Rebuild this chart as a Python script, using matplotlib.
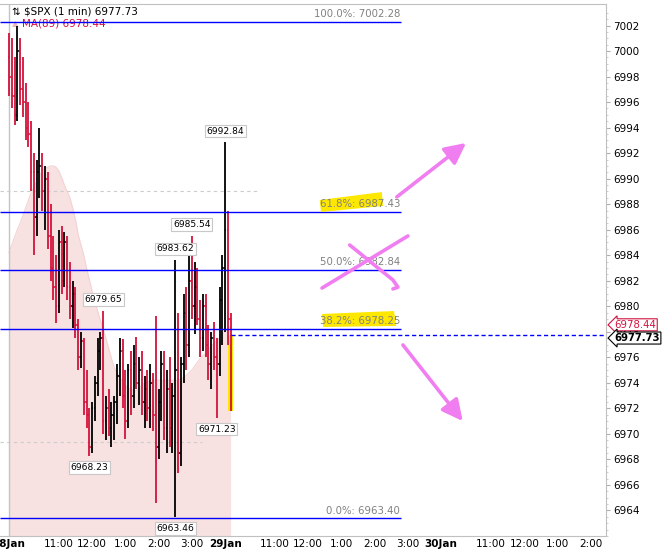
import numpy as np
import matplotlib
matplotlib.use('Agg')
import matplotlib.pyplot as plt
from matplotlib.patches import Polygon, Rectangle
import matplotlib.transforms as mtransforms

# 5-minute steps of trading minutes, 0 = 28 Jan 9:30
bar_minutes = np.arange(0, 405, 5)

opens = [6999.5, 6998.0, 6996.5, 6995.0, 7000.0, 6997.0, 6996.0, 6994.0, 6993.5, 6990.5,
         6987.0, 6990.5, 6991.0, 6989.0, 6990.0, 6985.5, 6983.0, 6981.5, 6980.0, 6985.0,
         6982.0, 6985.0, 6981.5, 6980.0, 6981.0, 6978.5, 6976.0, 6977.3, 6972.5, 6971.5,
         6969.0, 6972.0, 6974.0, 6976.5, 6977.5, 6971.0, 6972.0, 6970.5, 6971.5, 6972.5,
         6974.5, 6976.5, 6973.0, 6971.0, 6975.0, 6973.0, 6975.5, 6974.0, 6975.0, 6972.5,
         6973.5, 6972.0, 6974.0, 6971.5, 6969.0, 6972.5, 6975.5, 6970.5, 6973.5, 6970.5,
         6973.0, 6975.0, 6968.5, 6975.5, 6979.5, 6977.0, 6982.0, 6980.0, 6981.5, 6979.0,
         6977.5, 6980.0, 6977.0, 6975.5, 6977.5, 6976.0, 6975.5, 6980.5, 6983.0, 6986.0,
         6979.0]
highs = [7001.4, 7001.0, 6999.5, 7002.0, 7001.0, 6999.5, 6997.5, 6996.0, 6994.5, 6992.0,
         6991.5, 6994.0, 6992.0, 6991.0, 6990.5, 6988.0, 6985.5, 6984.0, 6986.0, 6986.3,
         6985.8, 6985.5, 6983.5, 6982.0, 6981.5, 6979.0, 6978.0, 6977.5, 6975.0, 6972.0,
         6972.5, 6974.5, 6977.5, 6978.0, 6979.65, 6973.0, 6973.5, 6972.5, 6973.0, 6975.5,
         6977.5, 6977.4, 6975.0, 6975.5, 6976.5, 6977.0, 6977.6, 6976.0, 6976.5, 6974.5,
         6975.0, 6975.5, 6974.8, 6979.2, 6973.5, 6976.5, 6976.5, 6975.0, 6976.0, 6974.0,
         6983.62, 6979.5, 6976.0, 6981.0, 6981.5, 6984.5, 6985.54, 6983.5, 6983.0, 6980.5,
         6981.0, 6981.0, 6978.5, 6978.0, 6978.8, 6977.5, 6981.5, 6984.0, 6992.84, 6987.5,
         6979.5]
lows = [6996.5, 6995.5, 6994.2, 6994.5, 6995.8, 6994.8, 6993.0, 6992.5, 6989.0, 6984.0,
        6985.5, 6988.5, 6987.5, 6986.0, 6984.5, 6982.0, 6980.5, 6978.7, 6979.5, 6981.0,
        6981.5, 6980.5, 6979.0, 6978.3, 6977.5, 6975.0, 6975.2, 6971.5, 6970.5, 6968.23,
        6968.5, 6971.0, 6973.0, 6975.0, 6970.0, 6969.5, 6969.8, 6969.0, 6969.5, 6970.8,
        6973.0, 6972.0, 6969.6, 6970.5, 6971.5, 6972.0, 6973.5, 6972.3, 6971.5, 6970.5,
        6971.0, 6970.5, 6970.2, 6964.6, 6968.0, 6971.0, 6969.5, 6968.5, 6969.0, 6968.5,
        6963.46, 6966.9, 6967.5, 6974.0, 6975.0, 6976.0, 6979.0, 6977.8, 6978.5, 6976.0,
        6976.5, 6976.0, 6974.2, 6973.5, 6975.0, 6971.23, 6974.5, 6977.0, 6978.0, 6977.0,
        6971.8]
closes = [6998.0, 6996.5, 6995.0, 7000.0, 6997.0, 6996.0, 6994.0, 6993.5, 6990.5, 6987.0,
          6990.5, 6991.0, 6989.0, 6990.0, 6985.5, 6983.0, 6981.5, 6980.0, 6985.0, 6982.0,
          6985.0, 6981.5, 6980.0, 6981.0, 6978.5, 6976.0, 6977.3, 6972.5, 6971.5, 6969.0,
          6972.0, 6974.0, 6976.5, 6977.5, 6971.0, 6972.0, 6970.5, 6971.5, 6972.5, 6974.5,
          6976.5, 6973.0, 6971.0, 6975.0, 6973.0, 6975.5, 6974.0, 6975.0, 6972.5, 6973.5,
          6972.0, 6974.0, 6971.5, 6969.0, 6972.5, 6975.5, 6970.5, 6973.5, 6970.5, 6973.0,
          6975.0, 6968.5, 6975.5, 6979.5, 6977.0, 6982.0, 6980.0, 6981.5, 6979.0, 6977.5,
          6980.0, 6977.0, 6975.5, 6977.5, 6976.0, 6975.5, 6980.5, 6983.0, 6986.0, 6979.0,
          6977.73]
ma89 = [6984.2, 6984.8, 6985.4, 6986.0, 6986.5, 6987.1, 6987.7, 6988.3, 6988.9, 6989.3,
        6989.8, 6990.2, 6990.6, 6990.8, 6990.9, 6991.0, 6991.0, 6990.9, 6990.6, 6990.1,
        6989.5, 6989.0, 6988.5, 6987.7, 6986.8, 6985.6, 6984.8, 6984.0, 6983.0, 6982.1,
        6981.2, 6980.4, 6979.6, 6978.9, 6978.2, 6977.5, 6976.7, 6975.9, 6975.2, 6974.8,
        6974.4, 6974.1, 6973.8, 6973.6, 6973.5, 6973.4, 6973.4, 6973.6, 6973.8, 6974.0,
        6974.1, 6974.1, 6974.2, 6974.2, 6974.2, 6974.2, 6974.2, 6974.2, 6974.2, 6974.2,
        6974.2, 6974.2, 6974.3, 6974.4, 6974.6, 6974.8, 6975.0, 6975.3, 6975.6, 6975.9,
        6976.1, 6976.3, 6976.6, 6976.9, 6977.1, 6977.3, 6977.5, 6977.8, 6978.0, 6978.2,
        6978.44]

# bars that carry a price tag
tagged = [(78, 'high'), (66, 'high'), (60, 'high'), (34, 'high'),
          (29, 'low'), (75, 'low'), (60, 'low')]

fib_high = 7002.28
fib_low = 6963.40
fib_ratios = [1.0, 0.618, 0.5, 0.382, 0.0]
highlighted_ratios = [0.618, 0.382]

day_ticks = [0, 390, 780]
day_labels = ['28Jan', '29Jan', '30Jan']
hour_ticks = [90, 150, 210, 270, 330, 480, 540, 600, 660, 720, 870, 930, 990, 1050]
hour_labels = ['11:00', '12:00', '1:00', '2:00', '3:00'] * 2 + ['11:00', '12:00', '1:00', '2:00']

RED = '#d2123c'
BLUE = '#0000ff'
PEN = '#f07ef0'
HILITE = '#ffe800'
X0, X1 = -16.2, 1077.6
Y0, Y1 = 6962.0, 7003.69

fig = plt.figure(figsize=(6.64, 5.52), dpi=100)
ax = fig.add_axes([0, 0.029, 0.9127, 0.9638])
ax.set_xlim(X0, X1)
ax.set_ylim(Y0, Y1)

# MA(89) area
ax.fill_between(bar_minutes, ma89, Y0, color='#f8e1e1', lw=0, zorder=0)
ax.plot(bar_minutes, ma89, color='#f3d3d3', lw=0.8, zorder=0.5)

# day separator and reference dashes
ax.axvline(0, color='#c4c4c4', lw=1, zorder=0.6)
ax.hlines(6989.0, X0, 450, color='#cccccc', lw=0.8, ls=(0, (3, 3)), zorder=0.6)
ax.hlines(6969.4, X0, 348, color='#cccccc', lw=0.8, ls=(0, (3, 3)), zorder=0.6)

# yellow marker on the last bar
last = len(bar_minutes) - 1
ax.add_patch(Rectangle((bar_minutes[last] - 4.5, lows[last]), 9,
                       closes[last] - lows[last], color=HILITE, lw=0, zorder=1))

# OHLC bars
for m, o, h, l, c in zip(bar_minutes, opens, highs, lows, closes):
    col = RED if c < o else 'black'
    ax.vlines(m, l, h, color=col, lw=1.3, zorder=2)
    ax.hlines(o, m - 2.4, m, color=col, lw=1.1, zorder=2)
    ax.hlines(c, m, m + 2.4, color=col, lw=1.1, zorder=2)

# price tags on extremes
for i, kind in tagged:
    val = highs[i] if kind == 'high' else lows[i]
    off = 8 if kind == 'high' else -8
    ax.annotate(f'{val:.2f}', xy=(bar_minutes[i], val), xytext=(0, off),
                textcoords='offset points', ha='center', va='center', fontsize=6.6,
                bbox=dict(boxstyle='square,pad=0.18', fc='white', ec='#c8c8c8', lw=0.8),
                zorder=6)

# fibonacci retracement
fib_end = 707
for r in fib_ratios:
    lvl = fib_low + r * (fib_high - fib_low)
    ax.hlines(lvl, X0, fib_end, color=BLUE, lw=1, zorder=3)
    ax.text(fib_end - 1, lvl + 0.2, f'{r * 100:.1f}%: {lvl:.2f}', ha='right', va='bottom',
            fontsize=7.3, color='#808080', zorder=5)

# highlighter strokes behind two fib labels
hl_shapes = {
    0.618: [(561, 6988.33), (673, 6988.95), (675, 6987.86), (563, 6987.39)],
    0.382: [(565, 6979.40), (695, 6979.63), (699, 6978.46), (567, 6978.38)],
}
for r in highlighted_ratios:
    ax.add_patch(Polygon(hl_shapes[r], closed=True, color=HILITE, lw=0, zorder=4))

# current price dashed line
ax.hlines(closes[-1], bar_minutes[-1], X1, color=BLUE, lw=1, ls=(0, (3, 2)), zorder=3)

# hand drawn pen marks
arrow_kw = dict(arrowstyle='-|>,head_length=0.7,head_width=0.35', color=PEN, lw=2.6,
                mutation_scale=18, shrinkA=0, shrinkB=0)
ax.annotate('', xy=(825, 6992.8), xytext=(700, 6988.57), arrowprops=arrow_kw, zorder=7)
ax.annotate('', xy=(819, 6971.0), xytext=(711, 6976.97), arrowprops=arrow_kw, zorder=7)
ax.plot([565, 720], [6981.43, 6985.51], color=PEN, lw=2.6, solid_capstyle='round', zorder=7)
ax.plot([615, 693, 702, 693], [6984.8, 6982.06, 6981.5, 6981.36], color=PEN, lw=2.6,
        solid_capstyle='round', solid_joinstyle='round', zorder=7)

# header texts
hdr_tr = mtransforms.blended_transform_factory(mtransforms.IdentityTransform(), fig.transFigure)
ax.text(12, 1 - 12 / 552, f'\u21c5 $SPX (1 min) {closes[-1]:.2f}', transform=hdr_tr,
        fontsize=7.5, va='center', zorder=8)
ax.text(12, 1 - 24 / 552, '\u25b2', transform=hdr_tr, fontsize=6, color='#f2b6b6',
        va='center', zorder=1)
ax.text(22, 1 - 24 / 552, f'MA(89) {ma89[-1]:.2f}', transform=hdr_tr, fontsize=7.5,
        color=RED, va='center', zorder=1)

# axes styling
for side in ['top', 'bottom', 'right']:
    ax.spines[side].set_color('#c0c0c0')
ax.spines['left'].set_visible(False)
ax.yaxis.tick_right()
ax.set_yticks(np.arange(6964, 7003, 2))
ax.set_yticks(np.arange(6962, 7003.5, 0.5), minor=True)
ax.tick_params(axis='y', which='major', length=3, color='#b0b0b0', labelsize=7.5, pad=2)
ax.tick_params(axis='y', which='minor', length=1.5, color='#c8c8c8')
ax.set_xticks(day_ticks + hour_ticks)
ax.set_xticklabels(day_labels + hour_labels)
ax.tick_params(axis='x', length=0, labelsize=7.5, pad=2)
for lab in ax.get_xticklabels()[:len(day_ticks)]:
    lab.set_fontweight('bold')

# value tags on the right axis
tag_tr = mtransforms.blended_transform_factory(ax.transAxes, ax.transData)
ax.annotate(f'{ma89[-1]:.2f}', xy=(1.0, ma89[-1]), xycoords=tag_tr, xytext=(6, 1),
            textcoords='offset points', va='center', ha='left', fontsize=7.3, color=RED,
            bbox=dict(boxstyle='larrow,pad=0.1', fc='white', ec=RED, lw=0.8),
            annotation_clip=False, zorder=9)
ax.annotate(f'{closes[-1]:.2f}', xy=(1.0, closes[-1]), xycoords=tag_tr, xytext=(6, -2),
            textcoords='offset points', va='center', ha='left', fontsize=7.3, color='black',
            fontweight='bold',
            bbox=dict(boxstyle='larrow,pad=0.1', fc='white', ec='black', lw=0.8),
            annotation_clip=False, zorder=10)

fig.savefig('out.png', dpi=100)
